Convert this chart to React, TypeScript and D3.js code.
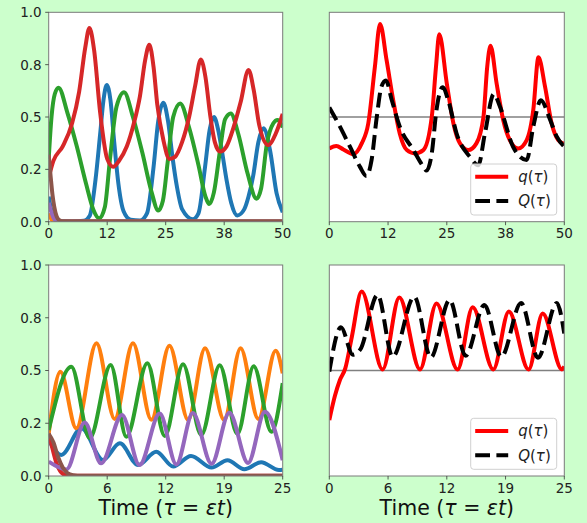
import React from 'react';
import * as d3 from 'd3';

type Pt = [number, number];

// ---------- Data ----------
// Top-left panel (tau 0..50)
const tlBlue: Pt[] = [[0,0.12],[0.5,0.06],[1,0.025],[2,0.004],[5,0.001],[7.5,0.004],[8.8,0.03],[10,0.2],[11,0.42],[11.7,0.58],[12.4,0.653],[13.2,0.58],[14,0.38],[14.9,0.18],[16,0.05],[17.5,0.01],[19.5,0.006],[21,0.04],[22.4,0.26],[23.4,0.48],[24.5,0.568],[25.5,0.48],[26.5,0.3],[27.4,0.167],[28.5,0.06],[30.8,0.012],[32,0.04],[33.4,0.26],[34.4,0.44],[35.3,0.5],[36.2,0.44],[37,0.34],[38,0.2],[39,0.09],[40.3,0.03],[41.8,0.06],[42.7,0.12],[43.7,0.22],[44.8,0.38],[45.9,0.446],[47.3,0.34],[48.7,0.135],[50,0.045]];
const tlOrange: Pt[] = [[0,0.04],[0.4,0.018],[0.8,0.006],[1.5,0.001],[50,0.001]];
const tlGreen: Pt[] = [[0,0.3],[0.6,0.5],[1.3,0.61],[2.1,0.64],[4,0.52],[6,0.36],[8,0.18],[9.5,0.06],[10.8,0.016],[12,0.07],[13.1,0.3],[14.5,0.55],[16.1,0.618],[18,0.5],[20,0.33],[22,0.14],[23.4,0.053],[24.4,0.1],[25.4,0.28],[26.6,0.5],[28.1,0.565],[30,0.45],[32,0.27],[33.5,0.12],[34.3,0.084],[35.3,0.14],[36.6,0.34],[37.7,0.49],[38.9,0.517],[40.5,0.42],[42.5,0.23],[44.4,0.11],[45.4,0.16],[46.6,0.37],[48,0.47],[48.9,0.486],[50,0.45]];
const tlRed: Pt[] = [[0,0.21],[1,0.29],[3,0.36],[5,0.47],[6.5,0.62],[7.8,0.83],[8.7,0.925],[9.7,0.82],[11,0.52],[12.5,0.3],[13.8,0.262],[15,0.29],[16.7,0.36],[18.2,0.47],[19.5,0.6],[20.6,0.77],[21.5,0.845],[22.4,0.74],[23.2,0.56],[24.5,0.39],[25.8,0.3],[27,0.31],[28.5,0.38],[30,0.5],[31.3,0.65],[32.5,0.775],[33.5,0.69],[34.5,0.51],[35.5,0.38],[36.6,0.335],[38,0.36],[39.5,0.45],[41,0.57],[42.7,0.725],[43.8,0.63],[45,0.46],[46.9,0.366],[48.5,0.42],[50,0.515]];
const tlPurple: Pt[] = [[0,0.09],[0.5,0.05],[1,0.02],[1.6,0.005],[2.5,0.001],[50,0.001]];
const tlBrown: Pt[] = [[0,0.32],[0.4,0.22],[0.8,0.13],[1.2,0.07],[1.7,0.025],[2.3,0.007],[3.2,0.002],[50,0.002]];

// Top-right panel (tau 0..50)
const trQ: Pt[] = [[0,0.35],[1.5,0.362],[3,0.345],[5.1,0.323],[6.9,0.374],[8.3,0.47],[9.7,0.74],[10.8,0.944],[12.2,0.77],[13.6,0.58],[15,0.42],[16.5,0.342],[18.2,0.326],[20,0.342],[21.8,0.5],[22.7,0.74],[23.4,0.895],[25,0.66],[26.4,0.47],[27.8,0.374],[29.6,0.342],[31.3,0.374],[32.8,0.5],[33.6,0.74],[34.3,0.84],[35.6,0.66],[37,0.486],[38.4,0.39],[40.2,0.35],[42,0.39],[43.4,0.533],[44.5,0.785],[45.9,0.645],[47.3,0.47],[48.7,0.39],[50,0.371]];
const trBigQ: Pt[] = [[0,0.546],[2.27,0.454],[4.4,0.358],[6.5,0.263],[7.9,0.218],[9,0.295],[10.1,0.5],[11.1,0.645],[12.05,0.674],[13.3,0.58],[15,0.454],[17.9,0.342],[20,0.263],[20.7,0.244],[21.8,0.326],[22.8,0.533],[24.1,0.642],[25.3,0.58],[27.1,0.42],[29.9,0.31],[31.7,0.27],[33.1,0.42],[35,0.61],[36.3,0.55],[39.1,0.358],[42,0.295],[43.4,0.454],[45,0.58],[47,0.486],[48.4,0.406],[50,0.358]];

// Bottom-left panel (tau 0..25)
const blBlue: Pt[] = [[0,0.17],[1.35,0.1],[3.5,0.226],[5.8,0.076],[7.6,0.155],[9.55,0.052],[11.5,0.115],[13.3,0.045],[15.2,0.095],[17.4,0.04],[19.1,0.075],[20.9,0.032],[22.7,0.065],[24.6,0.028],[25,0.03]];
const blOrange: Pt[] = [[0,0.2],[1.25,0.494],[2.95,0.226],[5.1,0.629],[7.05,0.27],[9.0,0.629],[10.97,0.266],[12.9,0.617],[14.9,0.266],[16.7,0.605],[18.75,0.266],[20.5,0.605],[22.4,0.27],[24.25,0.594],[25,0.487]];
const blGreen: Pt[] = [[0,0.218],[2.42,0.518],[4.38,0.179],[6.62,0.526],[8.3,0.186],[10.54,0.534],[12.4,0.19],[14.35,0.53],[16.3,0.195],[18.27,0.525],[20.16,0.2],[21.9,0.52],[23.8,0.21],[25,0.44]];
const blRed: Pt[] = [[0,0.2],[0.4,0.13],[0.8,0.065],[1.2,0.025],[1.7,0.006],[2.5,0.001],[25,0.001]];
const blPurple: Pt[] = [[0,0.068],[1.9,0.031],[3.85,0.253],[5.6,0.06],[7.83,0.289],[9.7,0.052],[11.86,0.296],[13.64,0.055],[15.4,0.298],[17.4,0.058],[19.3,0.3],[21.3,0.062],[23.1,0.305],[25,0.075]];
const blBrown: Pt[] = [[0,0.2],[0.5,0.16],[1,0.09],[1.5,0.04],[2,0.014],[2.6,0.004],[3.5,0.001],[25,0.001]];

// Bottom-right panel (tau 0..25)
const brQ: Pt[] = [[0,0.265],[0.6,0.38],[1.13,0.455],[1.7,0.51],[2.4,0.66],[3.44,0.874],[5.67,0.505],[7.45,0.846],[9.65,0.505],[11.4,0.818],[13.65,0.505],[15.25,0.8],[17.45,0.505],[19.1,0.78],[21.2,0.505],[22.7,0.77],[24.75,0.505],[25,0.52]];
const brBigQ: Pt[] = [[0,0.495],[1.24,0.705],[2.5,0.575],[3.3,0.6],[5.14,0.858],[6.74,0.565],[9.04,0.85],[10.8,0.562],[12.8,0.834],[14.5,0.57],[16.5,0.81],[18.3,0.565],[20.4,0.82],[22.2,0.56],[24.2,0.82],[25,0.675]];

// Ticks
const yTickValues = [0, 0.25, 0.5, 0.75, 1];
const yTickLabels = ['0.0', '0.2', '0.5', '0.8', '1.0'];
const xTickTop = [0, 12.5, 25, 37.5, 50];
const xTickTopLabels = ['0', '12', '25', '38', '50'];
const xTickBottom = [0, 6.25, 12.5, 18.75, 25];
const xTickBottomLabels = ['0', '6', '12', '19', '25'];

const tab = ['#1f77b4', '#ff7f0e', '#2ca02c', '#d62728', '#9467bd', '#8c564b'];
const FONT = 'DejaVu Sans';

type Series = { pts: Pt[]; color: string; dash?: string };

type PanelProps = {
  id: string;
  left: number; right: number; top: number; bottom: number;
  xMax: number; xTicks: number[]; xLabels: string[];
  showY: boolean; hline?: number; series: Series[];
  legend?: boolean; xlabel?: boolean;
};

function MathLabel({ sym }: { sym: string }) {
  return (
    <>
      <tspan fontStyle="italic">{sym}</tspan>
      <tspan>(</tspan>
      <tspan fontStyle="italic">τ</tspan>
      <tspan>)</tspan>
    </>
  );
}

function Panel(p: PanelProps) {
  const x = d3.scaleLinear().domain([0, p.xMax]).range([p.left, p.right]);
  const y = d3.scaleLinear().domain([0, 1]).range([p.bottom, p.top]);
  const line = d3.line<Pt>().x(d => x(d[0])).y(d => y(d[1])).curve(d3.curveMonotoneX);
  const spine = '#7a7a7a';
  const lgR = p.right - 7.6, lgB = p.bottom - 6.7;
  const lgW = 86, lgH = 51;
  const lgX = lgR - lgW, lgY = lgB - lgH;
  return (
    <g>
      <defs>
        <clipPath id={p.id}>
          <rect x={p.left} y={p.top} width={p.right - p.left} height={p.bottom - p.top} />
        </clipPath>
      </defs>
      <rect x={p.left} y={p.top} width={p.right - p.left} height={p.bottom - p.top} fill="#ffffff" />
      {p.hline !== undefined && (
        <line x1={p.left} x2={p.right} y1={y(p.hline)} y2={y(p.hline)} stroke="#808080" strokeWidth={1.5} />
      )}
      <g clipPath={`url(#${p.id})`}>
        {p.series.map((s, i) => (
          <path key={i} d={line(s.pts) || ''} fill="none" stroke={s.color} strokeWidth={4}
            strokeDasharray={s.dash} strokeLinejoin="round" />
        ))}
      </g>
      <rect x={p.left} y={p.top} width={p.right - p.left} height={p.bottom - p.top} fill="none" stroke={spine} strokeWidth={1} />
      {p.xTicks.map((t, i) => (
        <g key={i}>
          <line x1={x(t)} x2={x(t)} y1={p.bottom} y2={p.bottom + 3.5} stroke="#333" strokeWidth={0.8} />
          <text x={x(t)} y={p.bottom + 16.5} textAnchor="middle" fontFamily={FONT} fontSize={13.5} fill="#222">{p.xLabels[i]}</text>
        </g>
      ))}
      {p.showY && yTickValues.map((t, i) => (
        <g key={i}>
          <line x1={p.left - 3.5} x2={p.left} y1={y(t)} y2={y(t)} stroke="#333" strokeWidth={0.8} />
          <text x={p.left - 7} y={y(t)} dy="0.36em" textAnchor="end" fontFamily={FONT} fontSize={13.5} fill="#222">{yTickLabels[i]}</text>
        </g>
      ))}
      {p.legend && (
        <g>
          <rect x={lgX} y={lgY} width={lgW} height={lgH} rx={3} fill="#ffffff" fillOpacity={0.8} stroke="#d0d0d0" strokeWidth={1} />
          <line x1={lgX + 4.5} x2={lgX + 37.5} y1={lgY + 12.7} y2={lgY + 12.7} stroke="#ff0000" strokeWidth={4} />
          <text x={lgX + 47.5} y={lgY + 12.7} dy="0.35em" fontFamily={FONT} fontSize={15} fill="#222"><MathLabel sym="q" /></text>
          <line x1={lgX + 4.5} x2={lgX + 37.5} y1={lgY + 37} y2={lgY + 37} stroke="#000" strokeWidth={4} strokeDasharray="14.8,6.4" />
          <text x={lgX + 47.5} y={lgY + 37} dy="0.35em" fontFamily={FONT} fontSize={15} fill="#222"><MathLabel sym="Q" /></text>
        </g>
      )}
      {p.xlabel && (
        <text x={(p.left + p.right) / 2} y={515} textAnchor="middle" fontFamily={FONT} fontSize={20.5} fill="#111">
          <tspan>Time (</tspan>
          <tspan fontStyle="italic">τ</tspan>
          <tspan> = </tspan>
          <tspan fontStyle="italic">εt</tspan>
          <tspan>)</tspan>
        </text>
      )}
    </g>
  );
}

export default function App() {
  const L1 = 48.7, R1 = 282.7, L2 = 329.3, R2 = 564.3;
  const T1 = 12.3, B1 = 221.7, T2 = 265, B2 = 476;
  const mk = (arrs: Pt[][]): Series[] => arrs.map((pts, i) => ({ pts, color: tab[i] }));
  return (
    <svg width={587} height={523} style={{ position: 'absolute', left: 0, top: 0, display: 'block' }}>
      <rect x={0} y={0} width={587} height={523} fill="#ccffcc" />
      <Panel id="c1" left={L1} right={R1} top={T1} bottom={B1} xMax={50} xTicks={xTickTop} xLabels={xTickTopLabels}
        showY series={mk([tlBlue, tlOrange, tlGreen, tlRed, tlPurple, tlBrown])} />
      <Panel id="c2" left={L2} right={R2} top={T1} bottom={B1} xMax={50} xTicks={xTickTop} xLabels={xTickTopLabels}
        showY={false} hline={0.5} legend
        series={[{ pts: trQ, color: '#ff0000' }, { pts: trBigQ, color: '#000000', dash: '14.8,6.4' }]} />
      <Panel id="c3" left={L1} right={R1} top={T2} bottom={B2} xMax={25} xTicks={xTickBottom} xLabels={xTickBottomLabels}
        showY xlabel series={mk([blBlue, blOrange, blGreen, blRed, blPurple, blBrown])} />
      <Panel id="c4" left={L2} right={R2} top={T2} bottom={B2} xMax={25} xTicks={xTickBottom} xLabels={xTickBottomLabels}
        showY={false} hline={0.5} legend xlabel
        series={[{ pts: brQ, color: '#ff0000' }, { pts: brBigQ, color: '#000000', dash: '14.8,6.4' }]} />
    </svg>
  );
}
